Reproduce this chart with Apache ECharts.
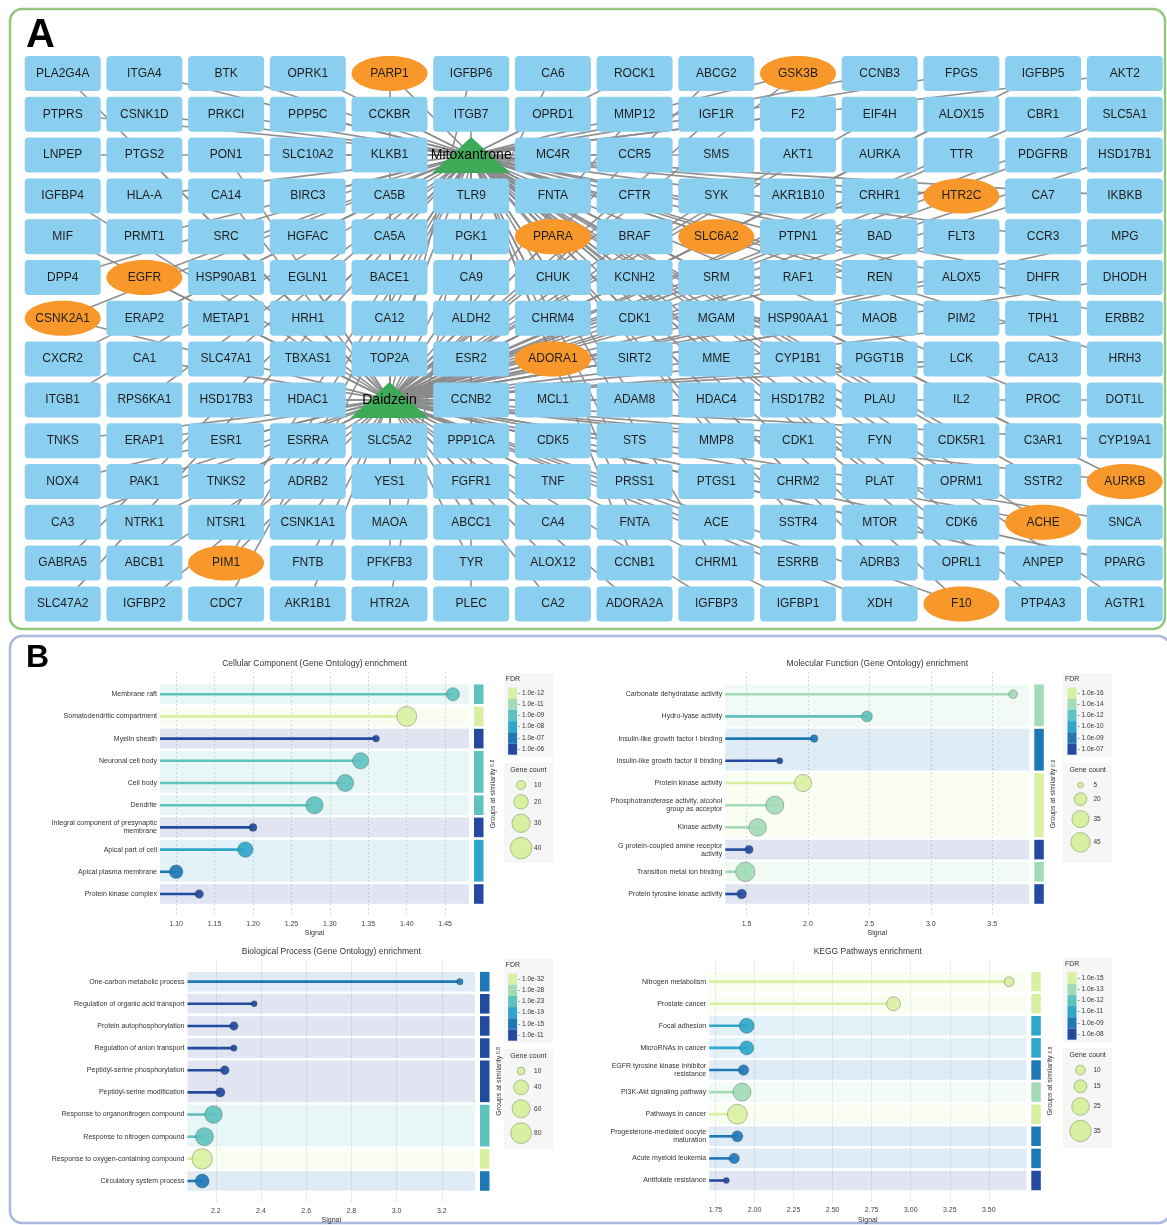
<!DOCTYPE html>
<html>
<head>
<meta charset="utf-8">
<script src="https://cdn.jsdelivr.net/npm/echarts@6/dist/echarts.min.js"></script>
<style>
  html, body { margin: 0; padding: 0; background: #fff; }
  #main { width: 1167px; height: 1225px; }
</style>
</head>
<body>
<div id="main"></div>
<script>
// ---- panel A: drug / target network, grid layout ----
var nodeRows = [
  ['PLA2G4A', 'ITGA4', 'BTK', 'OPRK1', 'PARP1', 'IGFBP6', 'CA6', 'ROCK1', 'ABCG2', 'GSK3B', 'CCNB3', 'FPGS', 'IGFBP5', 'AKT2'],
  ['PTPRS', 'CSNK1D', 'PRKCI', 'PPP5C', 'CCKBR', 'ITGB7', 'OPRD1', 'MMP12', 'IGF1R', 'F2', 'EIF4H', 'ALOX15', 'CBR1', 'SLC5A1'],
  ['LNPEP', 'PTGS2', 'PON1', 'SLC10A2', 'KLKB1', 'Mitoxantrone', 'MC4R', 'CCR5', 'SMS', 'AKT1', 'AURKA', 'TTR', 'PDGFRB', 'HSD17B1'],
  ['IGFBP4', 'HLA-A', 'CA14', 'BIRC3', 'CA5B', 'TLR9', 'FNTA', 'CFTR', 'SYK', 'AKR1B10', 'CRHR1', 'HTR2C', 'CA7', 'IKBKB'],
  ['MIF', 'PRMT1', 'SRC', 'HGFAC', 'CA5A', 'PGK1', 'PPARA', 'BRAF', 'SLC6A2', 'PTPN1', 'BAD', 'FLT3', 'CCR3', 'MPG'],
  ['DPP4', 'EGFR', 'HSP90AB1', 'EGLN1', 'BACE1', 'CA9', 'CHUK', 'KCNH2', 'SRM', 'RAF1', 'REN', 'ALOX5', 'DHFR', 'DHODH'],
  ['CSNK2A1', 'ERAP2', 'METAP1', 'HRH1', 'CA12', 'ALDH2', 'CHRM4', 'CDK1', 'MGAM', 'HSP90AA1', 'MAOB', 'PIM2', 'TPH1', 'ERBB2'],
  ['CXCR2', 'CA1', 'SLC47A1', 'TBXAS1', 'TOP2A', 'ESR2', 'ADORA1', 'SIRT2', 'MME', 'CYP1B1', 'PGGT1B', 'LCK', 'CA13', 'HRH3'],
  ['ITGB1', 'RPS6KA1', 'HSD17B3', 'HDAC1', 'Daidzein', 'CCNB2', 'MCL1', 'ADAM8', 'HDAC4', 'HSD17B2', 'PLAU', 'IL2', 'PROC', 'DOT1L'],
  ['TNKS', 'ERAP1', 'ESR1', 'ESRRA', 'SLC5A2', 'PPP1CA', 'CDK5', 'STS', 'MMP8', 'CDK1', 'FYN', 'CDK5R1', 'C3AR1', 'CYP19A1'],
  ['NOX4', 'PAK1', 'TNKS2', 'ADRB2', 'YES1', 'FGFR1', 'TNF', 'PRSS1', 'PTGS1', 'CHRM2', 'PLAT', 'OPRM1', 'SSTR2', 'AURKB'],
  ['CA3', 'NTRK1', 'NTSR1', 'CSNK1A1', 'MAOA', 'ABCC1', 'CA4', 'FNTA', 'ACE', 'SSTR4', 'MTOR', 'CDK6', 'ACHE', 'SNCA'],
  ['GABRA5', 'ABCB1', 'PIM1', 'FNTB', 'PFKFB3', 'TYR', 'ALOX12', 'CCNB1', 'CHRM1', 'ESRRB', 'ADRB3', 'OPRL1', 'ANPEP', 'PPARG'],
  ['SLC47A2', 'IGFBP2', 'CDC7', 'AKR1B1', 'HTR2A', 'PLEC', 'CA2', 'ADORA2A', 'IGFBP3', 'IGFBP1', 'XDH', 'F10', 'PTP4A3', 'AGTR1']
];
// M = Mitoxantrone target, D = Daidzein target, B = shared target, X = the drug itself
var linkRows = [
  'DMMMBDDMDBMMDM',
  'MMMMMMMDDMDDDD',
  'MDDMMXMMMDDDDD',
  'DMDMDMMDDDMBDM',
  'DMDMDMBDBDMDMD',
  'MBDDMDMMDDMDMD',
  'BMDMDDMMDDDMDM',
  'MDMDMDBDMDMDDM',
  'MMDDXMDMDDMMMD',
  'DDDDDMDDMDDMMD',
  'DDDMDDDMDMMMMB',
  'DDMDDDDMDMDMBD',
  'MDBDDDDMMDMMDD',
  'MDMDMMDDDDDBMM'
];

// ---- panel B: enrichment lollipops ----
var fdrColors = ['#d9f0a3', '#a3dbb7', '#60c2bf', '#2fa6ca', '#1e78b6', '#234a9e'];

var ccTerms = ['Membrane raft', 'Somatodendritic compartment', 'Myelin sheath', 'Neuronal cell body', 'Cell body', 'Dendrite',
  'Integral component of presynaptic\nmembrane', 'Apical part of cell', 'Apical plasma membrane', 'Protein kinase complex'];
var ccSignal = [1.46, 1.40, 1.36, 1.34, 1.32, 1.28, 1.20, 1.19, 1.10, 1.13];
var ccFdr = [2, 0, 5, 2, 2, 2, 5, 3, 4, 5];
var ccCount = [17, 35, 7, 24, 26, 27, 8, 22, 18, 9];
var ccGroup = [0, 1, 2, 3, 3, 4, 5, 6, 6, 7];
var ccFdrLabels = ['1.0e-12', '1.0e-11', '1.0e-09', '1.0e-08', '1.0e-07', '1.0e-06'];
var ccCountKeys = [10, 20, 30, 40];

var mfTerms = ['Carbonate dehydratase activity', 'Hydro-lyase activity', 'Insulin-like growth factor I binding',
  'Insulin-like growth factor II binding', 'Protein kinase activity', 'Phosphotransferase activity, alcohol\ngroup as acceptor',
  'Kinase activity', 'G protein-coupled amine receptor\nactivity', 'Transition metal ion binding', 'Protein tyrosine kinase activity'];
var mfSignal = [3.67, 2.48, 2.05, 1.77, 1.96, 1.73, 1.59, 1.52, 1.49, 1.46];
var mfFdr = [1, 2, 4, 5, 0, 1, 1, 5, 1, 5];
var mfCount = [10, 15, 8, 6, 35, 39, 37, 9, 45, 12];
var mfGroup = [0, 0, 1, 1, 2, 2, 2, 3, 4, 5];
var mfFdrLabels = ['1.0e-16', '1.0e-14', '1.0e-12', '1.0e-10', '1.0e-09', '1.0e-07'];
var mfCountKeys = [5, 20, 35, 45];

var bpTerms = ['One-carbon metabolic process', 'Regulation of organic acid transport', 'Protein autophosphorylation',
  'Regulation of anion transport', 'Peptidyl-serine phosphorylation', 'Peptidyl-serine modification',
  'Response to organonitrogen compound', 'Response to nitrogen compound', 'Response to oxygen-containing compound',
  'Circulatory system process'];
var bpSignal = [3.28, 2.37, 2.28, 2.28, 2.24, 2.22, 2.19, 2.15, 2.14, 2.14];
var bpFdr = [4, 5, 5, 5, 5, 5, 2, 2, 0, 4];
var bpCount = [6, 5, 12, 6, 13, 15, 57, 60, 78, 35];
var bpGroup = [0, 1, 2, 3, 4, 4, 5, 5, 6, 7];
var bpFdrLabels = ['1.0e-32', '1.0e-28', '1.0e-23', '1.0e-19', '1.0e-15', '1.0e-11'];
var bpCountKeys = [10, 40, 60, 80];

var kgTerms = ['Nitrogen metabolism', 'Prostate cancer', 'Focal adhesion', 'MicroRNAs in cancer',
  'EGFR tyrosine kinase inhibitor\nresistance', 'PI3K-Akt signaling pathway', 'Pathways in cancer',
  'Progesterone-mediated oocyte\nmaturation', 'Acute myeloid leukemia', 'Antifolate resistance'];
var kgSignal = [3.63, 2.89, 1.95, 1.95, 1.93, 1.92, 1.89, 1.89, 1.87, 1.82];
var kgFdr = [0, 0, 3, 3, 4, 1, 0, 4, 4, 5];
var kgCount = [10, 17, 19, 17, 11, 26, 31, 12, 11, 6];
var kgGroup = [0, 1, 2, 3, 4, 5, 6, 7, 8, 9];
var kgFdrLabels = ['1.0e-15', '1.0e-13', '1.0e-12', '1.0e-11', '1.0e-09', '1.0e-08'];
var kgCountKeys = [10, 15, 25, 35];

var FONT = 'Liberation Sans, Arial, sans-serif';
var option = {
  animation: false,
  backgroundColor: '#fff',
  textStyle: { fontFamily: FONT },
  grid: [], xAxis: [], yAxis: [], series: [], visualMap: [],
  graphic: { elements: [] }
};
var gfx = option.graphic.elements;

// panel frames + letters
gfx.push({ type: 'rect', z: 0, shape: { x: 10, y: 9, width: 1155, height: 620, r: 12 },
  style: { fill: 'none', stroke: '#92c77f', lineWidth: 2.5 } });
gfx.push({ type: 'rect', z: 0, shape: { x: 10, y: 636, width: 1160, height: 587, r: 12 },
  style: { fill: 'none', stroke: '#a9b8de', lineWidth: 2.5 } });
gfx.push({ type: 'text', x: 26, y: 36, style: { text: 'A', fontSize: 40, fontWeight: 'bold', fill: '#000',
  fontFamily: FONT, verticalAlign: 'middle' } });
gfx.push({ type: 'text', x: 26, y: 658, style: { text: 'B', fontSize: 32, fontWeight: 'bold', fill: '#000',
  fontFamily: FONT, verticalAlign: 'middle' } });

// ---- network ----
var rectPath = 'path://M4,0H72Q76,0 76,4V31Q76,35 72,35H4Q0,35 0,31V4Q0,0 4,0Z';
var ellipsePath = 'path://M0,50C0,22.4 22.4,0 50,0C77.6,0 100,22.4 100,50C100,77.6 77.6,100 50,100C22.4,100 0,77.6 0,50Z';
var drugPos = {};
nodeRows.forEach(function (row, r) {
  row.forEach(function (name, c) {
    if (linkRows[r][c] === 'X') drugPos[name] = [c, r];
  });
});
var nodes = [], edges = [];
nodeRows.forEach(function (row, r) {
  row.forEach(function (name, c) {
    var code = linkRows[r][c];
    var item = { name: name, value: [c, r] };
    if (code === 'X') {
      item.symbol = 'triangle';
      item.symbolSize = [78, 36];
      item.itemStyle = { color: '#3daa58' };
      item.label = { fontSize: 14, color: '#000' };
    } else if (code === 'B') {
      item.symbol = ellipsePath;
      item.symbolSize = [76, 35];
      item.itemStyle = { color: '#f8982a' };
    } else {
      item.symbol = rectPath;
      item.symbolSize = [76, 35];
      item.itemStyle = { color: '#8bcff0' };
    }
    nodes.push(item);
    if (code === 'M' || code === 'B') edges.push({ coords: [drugPos.Mitoxantrone, [c, r]] });
    if (code === 'D' || code === 'B') edges.push({ coords: [drugPos.Daidzein, [c, r]] });
  });
});

option.grid.push({ left: 21.85, top: 53.1, width: 1143.8, height: 571.2, containLabel: false, outerBoundsMode: 'none' });
option.xAxis.push({ gridIndex: 0, type: 'value', min: -0.5, max: 13.5, show: false });
option.yAxis.push({ gridIndex: 0, type: 'value', min: -0.5, max: 13.5, inverse: true, show: false });
option.series.push({
  type: 'lines', coordinateSystem: 'cartesian2d', xAxisIndex: 0, yAxisIndex: 0, z: 1, silent: true,
  lineStyle: { color: '#8a8a8a', width: 1.6, opacity: 0.95, curveness: 0 },
  data: edges
});
option.series.push({
  type: 'scatter', xAxisIndex: 0, yAxisIndex: 0, z: 3, silent: true,
  itemStyle: { opacity: 1 },
  label: { show: true, position: 'inside', formatter: '{b}', fontSize: 12, color: '#1e1e1e', fontFamily: FONT },
  data: nodes
});

// ---- enrichment charts ----
var charts = [
  { terms: ccTerms, signal: ccSignal, fdr: ccFdr, count: ccCount, group: ccGroup, fdrLabels: ccFdrLabels, countKeys: ccCountKeys,
    title: 'Cellular Component (Gene Ontology) enrichment',
    left: 160, right: 469, top: 672, rowH: 22.2, xStart: 1.079, xEnd: 1.481, interval: 0.05, decimals: 2,
    sizeA: -40, sizeB: 12.5, legendX: 503.6, legendY: 673 },
  { terms: mfTerms, signal: mfSignal, fdr: mfFdr, count: mfCount, group: mfGroup, fdrLabels: mfFdrLabels, countKeys: mfCountKeys,
    title: 'Molecular Function (Gene Ontology) enrichment',
    left: 725.3, right: 1029.3, top: 672, rowH: 22.2, xStart: 1.327, xEnd: 3.802, interval: 0.5, decimals: 1,
    sizeA: -12, sizeB: 8.7, legendX: 1063, legendY: 673 },
  { terms: bpTerms, signal: bpSignal, fdr: bpFdr, count: bpCount, group: bpGroup, fdrLabels: bpFdrLabels, countKeys: bpCountKeys,
    title: 'Biological Process (Gene Ontology) enrichment',
    left: 187.5, right: 475, top: 959.5, rowH: 22.15, xStart: 2.075, xEnd: 3.347, interval: 0.2, decimals: 1,
    sizeA: 10, sizeB: 5.23, legendX: 503.6, legendY: 959 },
  { terms: kgTerms, signal: kgSignal, fdr: kgFdr, count: kgCount, group: kgGroup, fdrLabels: kgFdrLabels, countKeys: kgCountKeys,
    title: 'KEGG Pathways enrichment',
    left: 709.2, right: 1026.3, top: 959.5, rowH: 22.1, xStart: 1.71, xEnd: 3.74, interval: 0.25, decimals: 2,
    sizeA: -50, sizeB: 14.4, legendX: 1063, legendY: 958 }
];

function addEnrichment(cfg) {
  var gi = option.grid.length;
  var n = cfg.terms.length;
  var pxPerUnit = (cfg.right - cfg.left) / (cfg.xEnd - cfg.xStart);
  var axisMin = Math.round(Math.floor(cfg.xStart / cfg.interval) * cfg.interval * 1e6) / 1e6;
  var gridLeft = cfg.left - (cfg.xStart - axisMin) * pxPerUnit;
  var height = cfg.rowH * (n + 1);
  var size = function (c) { return Math.sqrt(Math.max(cfg.sizeA + cfg.sizeB * c, 16)); };

  option.grid.push({ left: gridLeft, top: cfg.top, width: cfg.right - gridLeft, height: height,
    containLabel: false, outerBoundsMode: 'none' });
  option.xAxis.push({
    gridIndex: gi, type: 'value', min: axisMin, max: cfg.xEnd, interval: cfg.interval,
    axisLine: { show: false }, axisTick: { show: false },
    axisLabel: {
      fontSize: 7, color: '#444', margin: 4, showMinLabel: false, showMaxLabel: false,
      formatter: function (v) {
        if (v < cfg.xStart - 1e-9 || v > cfg.xEnd + 1e-9) return '';
        var k = v / cfg.interval;
        if (Math.abs(k - Math.round(k)) > 1e-6) return '';
        return v.toFixed(cfg.decimals);
      }
    },
    splitLine: { show: true, showMinLine: false, showMaxLine: false,
      lineStyle: { color: '#d2d2d2', type: [2, 2], width: 0.8 } }
  });
  option.yAxis.push({
    gridIndex: gi, type: 'value', min: -1, max: n, interval: 1, inverse: true,
    offset: gridLeft - cfg.left,
    axisLine: { show: false }, axisTick: { show: false }, splitLine: { show: false },
    axisLabel: { fontSize: 7, color: '#333', margin: 3, lineHeight: 8,
      formatter: function (v) { return cfg.terms[v] || ''; } }
  });

  // background bands + group strip, one per group of similar terms
  var spans = [];
  cfg.group.forEach(function (g, i) {
    if (i > 0 && cfg.group[i - 1] === g) spans[spans.length - 1][1] = i;
    else spans.push([i, i, cfg.fdr[i]]);
  });
  option.series.push({
    type: 'custom', xAxisIndex: gi, yAxisIndex: gi, z: 1, silent: true, clip: false,
    data: spans,
    renderItem: function (params, api) {
      var xa = api.coord([cfg.xStart, api.value(0) - 0.5]);
      var xb = api.coord([cfg.xEnd, api.value(1) + 0.5]);
      var y0 = xa[1] + 1.3, y1 = xb[1] - 1.3;
      var col = fdrColors[api.value(2)];
      return { type: 'group', children: [
        { type: 'rect', shape: { x: xa[0], y: y0, width: xb[0] - xa[0], height: y1 - y0 },
          style: { fill: col, opacity: 0.14 } },
        { type: 'rect', shape: { x: xb[0] + 5, y: y0, width: 9.5, height: y1 - y0 },
          style: { fill: col } }
      ] };
    }
  });
  var stemIdx = option.series.length;
  option.series.push({
    type: 'custom', xAxisIndex: gi, yAxisIndex: gi, z: 2, silent: true,
    encode: { x: 0, y: 1 },
    data: cfg.terms.map(function (t, i) { return [cfg.signal[i], i, cfg.fdr[i]]; }),
    renderItem: function (params, api) {
      var p0 = api.coord([cfg.xStart, api.value(1)]);
      var p1 = api.coord([api.value(0), api.value(1)]);
      return { type: 'line', shape: { x1: p0[0], y1: p0[1], x2: p1[0], y2: p1[1] },
        style: { stroke: api.visual('color'), lineWidth: 2.6 } };
    }
  });
  var dotIdx = option.series.length;
  option.series.push({
    type: 'scatter', xAxisIndex: gi, yAxisIndex: gi, z: 3, silent: true,
    encode: { x: 0, y: 1 },
    data: cfg.terms.map(function (t, i) { return [cfg.signal[i], i, cfg.fdr[i], cfg.count[i]]; }),
    symbolSize: function (v) { return size(v[3]); },
    itemStyle: { opacity: 0.92, borderColor: 'rgba(60,60,60,0.35)', borderWidth: 1 }
  });

  // FDR legend
  gfx.push({ type: 'rect', z: 0, shape: { x: cfg.legendX, y: cfg.legendY, width: 49.4, height: 84 },
    style: { fill: '#f6f6f6' } });
  gfx.push({ type: 'text', x: cfg.legendX + 2, y: cfg.legendY + 6,
    style: { text: 'FDR', fontSize: 7, fill: '#333', fontFamily: FONT, verticalAlign: 'middle' } });
  option.visualMap.push({
    type: 'piecewise', seriesIndex: [stemIdx, dotIdx], dimension: 2,
    pieces: cfg.fdrLabels.map(function (l, i) { return { value: i, label: '- ' + l, color: fdrColors[i] }; }),
    orient: 'vertical', inverse: true, align: 'left',
    left: cfg.legendX + 4.5, top: cfg.legendY + 14.5, padding: 0,
    itemWidth: 9, itemHeight: 11.2, itemGap: 0, itemSymbol: 'rect', textGap: 1,
    selectedMode: false, hoverLink: false, showLabel: true,
    textStyle: { fontSize: 6.5, color: '#333', fontFamily: FONT }
  });

  // gene count legend
  var gy = cfg.legendY + 90;
  gfx.push({ type: 'rect', z: 0, shape: { x: cfg.legendX, y: gy, width: 49.4, height: 100 },
    style: { fill: '#f6f6f6' } });
  gfx.push({ type: 'text', x: cfg.legendX + 24.7, y: gy + 7,
    style: { text: 'Gene count', fontSize: 7, fill: '#333', fontFamily: FONT, align: 'center', verticalAlign: 'middle' } });
  var cy = gy + 22, prev = null;
  cfg.countKeys.forEach(function (k) {
    var d = size(k);
    if (prev !== null) cy += (prev + d) / 2 + 5;
    gfx.push({ type: 'circle', z: 5, shape: { cx: cfg.legendX + 17.5, cy: cy, r: d / 2 },
      style: { fill: '#d9f0a3', stroke: '#a7bf8c', lineWidth: 1 } });
    gfx.push({ type: 'text', x: cfg.legendX + 30.5, y: cy,
      style: { text: String(k), fontSize: 6.5, fill: '#333', fontFamily: FONT, verticalAlign: 'middle' } });
    prev = d;
  });

  // titles
  var midX = (cfg.left + cfg.right) / 2;
  gfx.push({ type: 'text', x: midX, y: cfg.top - 8,
    style: { text: cfg.title, fontSize: 8.5, fill: '#333', fontFamily: FONT, align: 'center', verticalAlign: 'middle' } });
  gfx.push({ type: 'text', x: midX, y: cfg.top + height + 17,
    style: { text: 'Signal', fontSize: 7, fill: '#333', fontFamily: FONT, align: 'center', verticalAlign: 'middle' } });
  gfx.push({ type: 'text', x: cfg.right + 24, y: cfg.top + height / 2, rotation: Math.PI / 2,
    style: { text: 'Groups at similarity {s|0.8}', fontSize: 7, fill: '#333', fontFamily: FONT,
      align: 'center', verticalAlign: 'middle', rich: { s: { fontSize: 5, fill: '#333' } } } });
}
charts.forEach(addEnrichment);

var chart = echarts.init(document.getElementById('main'), null, { renderer: 'canvas' });
chart.setOption(option);
</script>
</body>
</html>
